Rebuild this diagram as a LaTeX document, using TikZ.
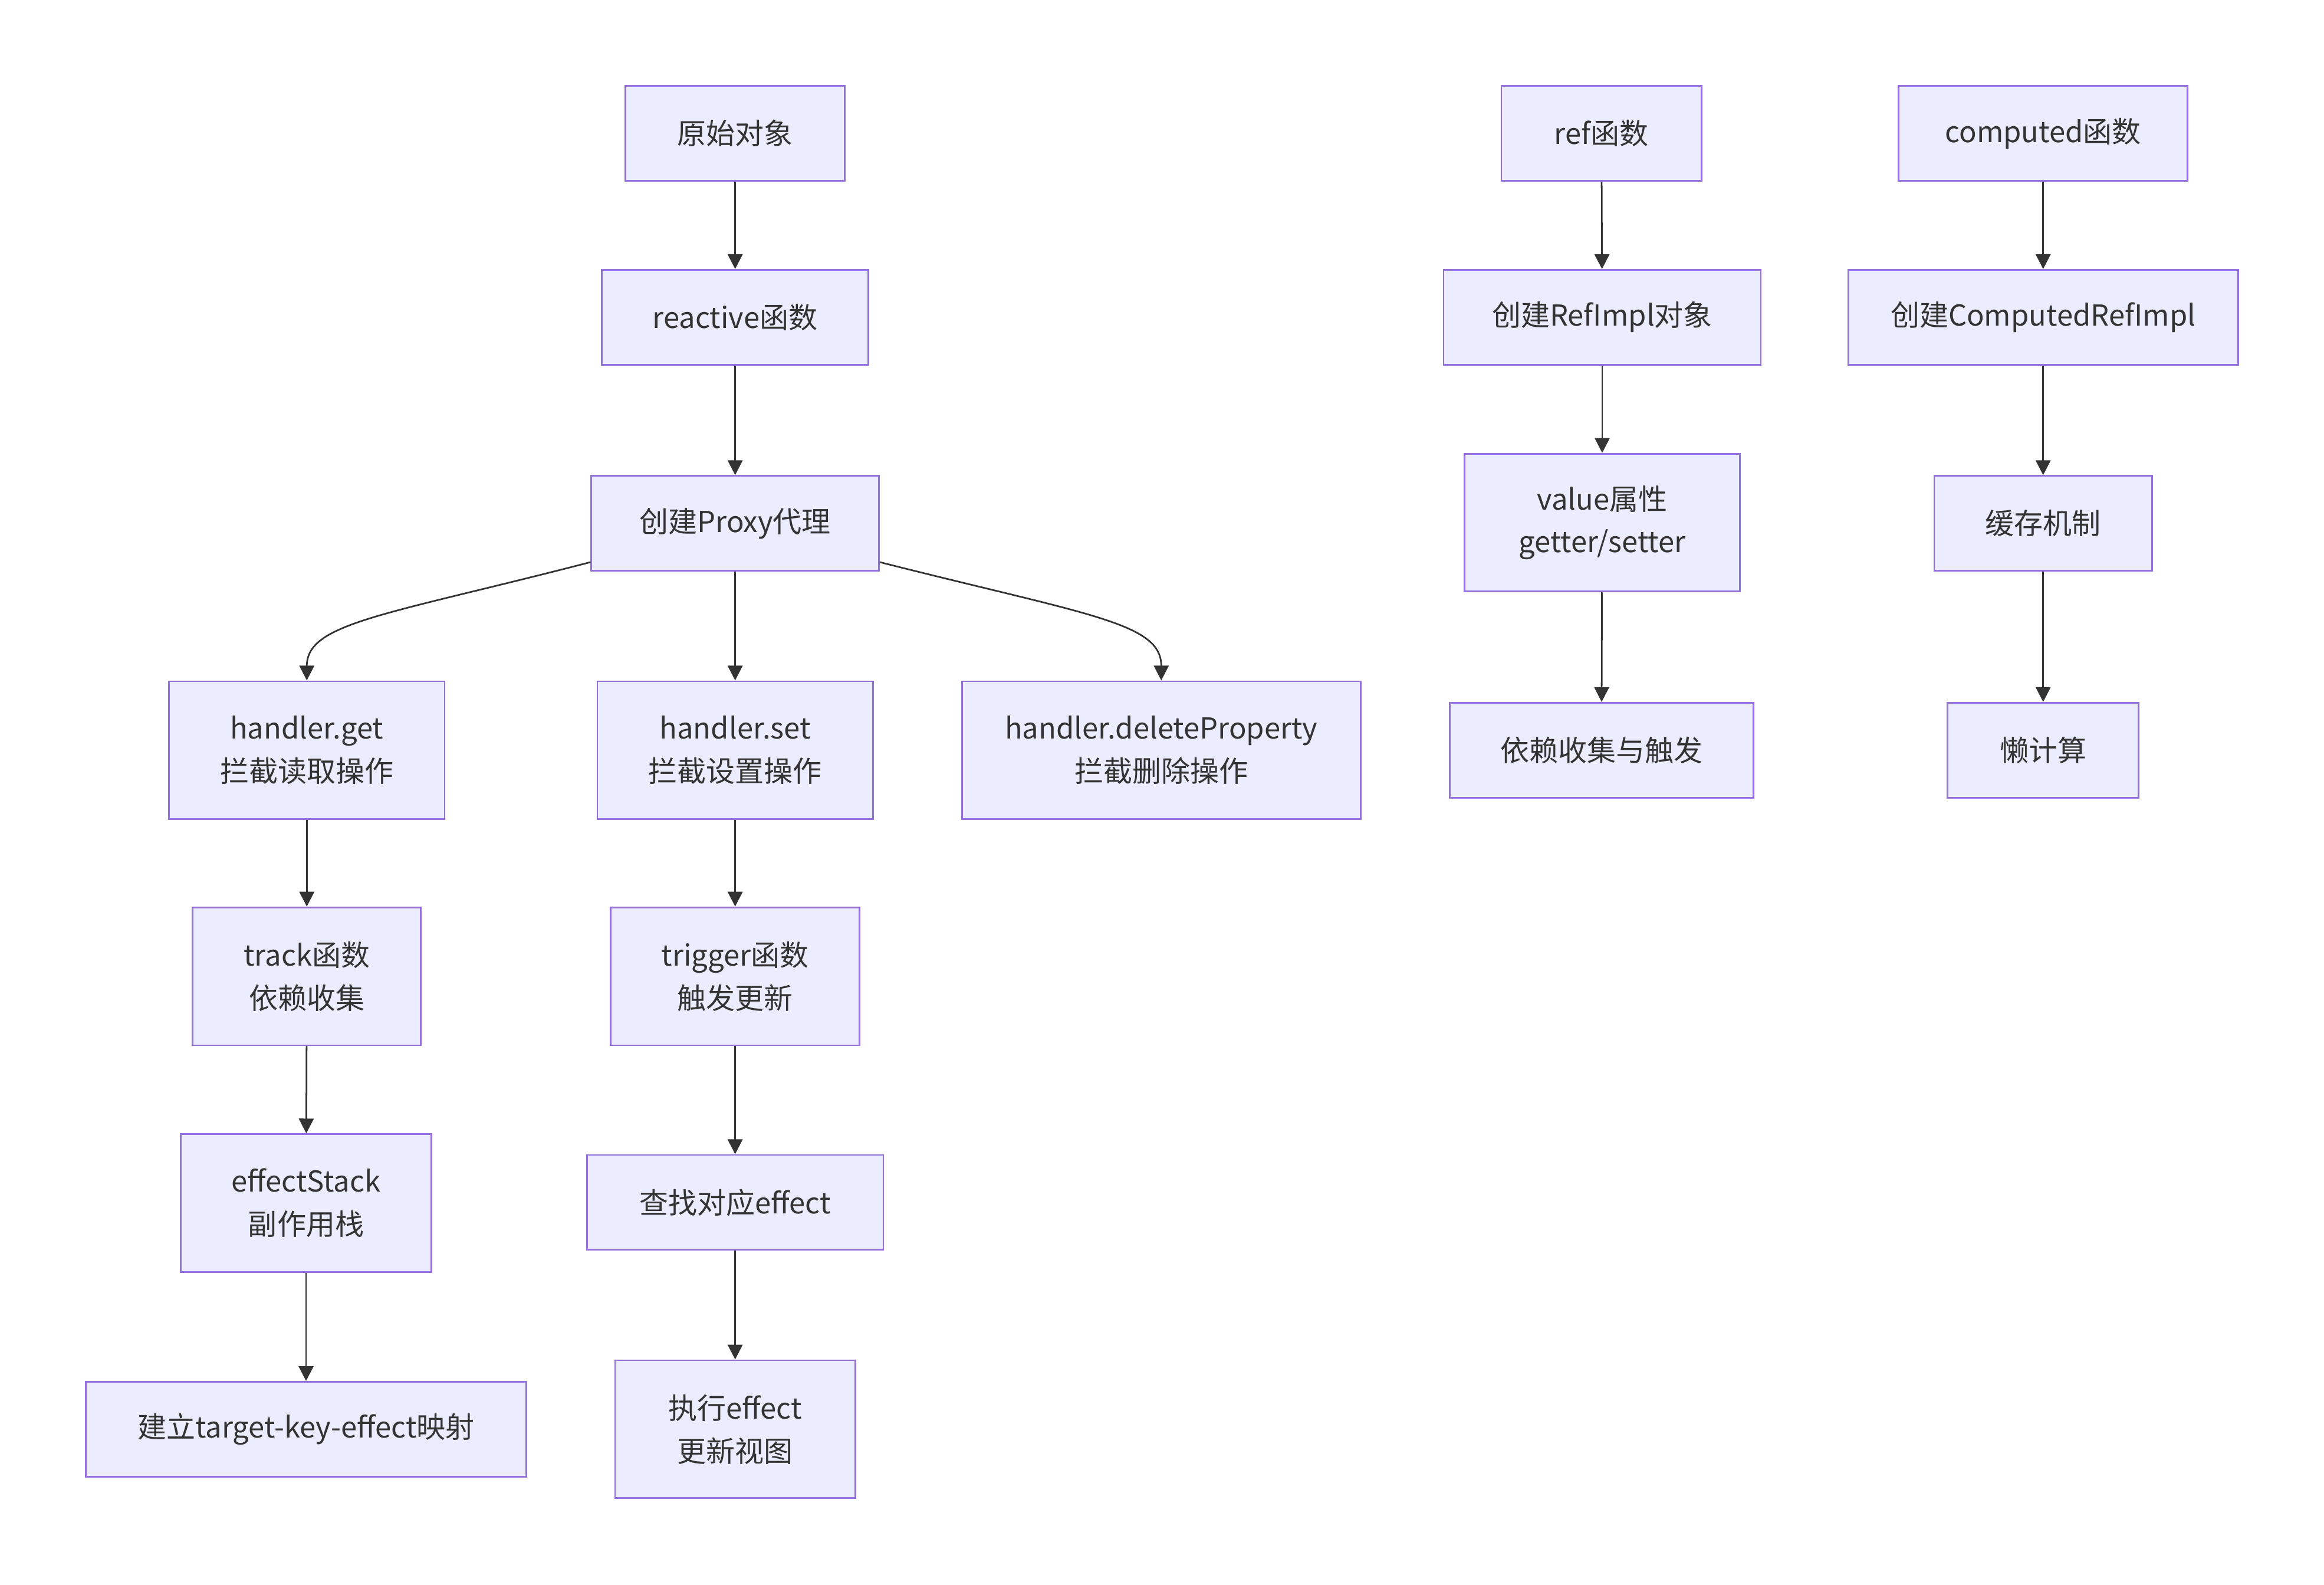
\documentclass[tikz,border=0pt]{standalone}
\usepackage{fontspec}
\setmainfont{Noto Sans CJK SC}
\usetikzlibrary{arrows.meta}
\definecolor{boxfill}{HTML}{ECECFF}
\definecolor{boxline}{HTML}{9370DB}
\definecolor{edgeline}{HTML}{333333}

\begin{document}
\begin{tikzpicture}[x=1pt,y=-1pt,
    box/.style={draw=boxline,fill=boxfill,line width=1.1pt,text=edgeline,
      font=\fontsize{19.5}{29}\selectfont,align=center,
      minimum height=64pt,inner xsep=25pt},
    twoline/.style={minimum height=93pt},
    edge/.style={draw=edgeline,line width=1.1pt,-{Triangle[length=10pt,width=10pt]}}]
    \fill[white] (0,0) rectangle (1568,1069);
    % reactive chain
    \node[box,minimum width=148pt] (orig) at (496,90) {原始对象};
    \node[box,minimum width=180pt] (reactive) at (496,214) {reactive函数};
    \node[box,minimum width=194pt] (proxy) at (496,353) {创建Proxy代理};
    \node[box,twoline,minimum width=186pt] (hget) at (207,506) {handler.get\\拦截读取操作};
    \node[box,twoline,minimum width=186pt] (hset) at (496,506) {handler.set\\拦截设置操作};
    \node[box,twoline,minimum width=269pt] (hdel) at (783.5,506) {handler.deleteProperty\\拦截删除操作};
    \node[box,twoline,minimum width=154pt] (track) at (207,658.5) {track函数\\依赖收集};
    \node[box,twoline,minimum width=168pt] (trigger) at (496,658.5) {trigger函数\\触发更新};
    \node[box,twoline,minimum width=169pt] (estack) at (206.5,811.5) {effectStack\\副作用栈};
    \node[box,minimum width=200pt] (find) at (496,811) {查找对应effect};
    \node[box,minimum width=297pt] (tkmap) at (206.5,964) {建立target-key-effect映射};
    \node[box,twoline,minimum width=162pt] (run) at (496,964) {执行effect\\更新视图};
    % ref chain
    \node[box,minimum width=135pt] (ref) at (1080.5,90) {ref函数};
    \node[box,minimum width=214pt] (refimpl) at (1081,214) {创建RefImpl对象};
    \node[box,twoline,minimum width=186pt] (value) at (1081,352.5) {value属性\\getter/setter};
    \node[box,minimum width=205pt] (refdep) at (1080.5,506) {依赖收集与触发};
    % computed chain
    \node[box,minimum width=195pt] (computed) at (1378.5,90) {computed函数};
    \node[box,minimum width=263pt] (cref) at (1378.5,214) {创建ComputedRefImpl};
    \node[box,minimum width=147pt] (cache) at (1378.5,353) {缓存机制};
    \node[box,minimum width=129pt] (lazy) at (1378.5,506) {懒计算};

    \draw[edge] (orig) -- (reactive);
    \draw[edge] (reactive) -- (proxy);
    \draw[edge] (proxy.195) .. controls (260,415) and (207,420) .. (hget.north);
    \draw[edge] (proxy) -- (hset);
    \draw[edge] (proxy.-15) .. controls (735,415) and (783.5,420) .. (hdel.north);
    \draw[edge] (hget) -- (track);
    \draw[edge] (track) -- (estack);
    \draw[edge] (estack) -- (tkmap);
    \draw[edge] (hset) -- (trigger);
    \draw[edge] (trigger) -- (find);
    \draw[edge] (find) -- (run);
    \draw[edge] (ref) -- (refimpl);
    \draw[edge] (refimpl) -- (value);
    \draw[edge] (value) -- (refdep);
    \draw[edge] (computed) -- (cref);
    \draw[edge] (cref) -- (cache);
    \draw[edge] (cache) -- (lazy);
\end{tikzpicture}
\end{document}
